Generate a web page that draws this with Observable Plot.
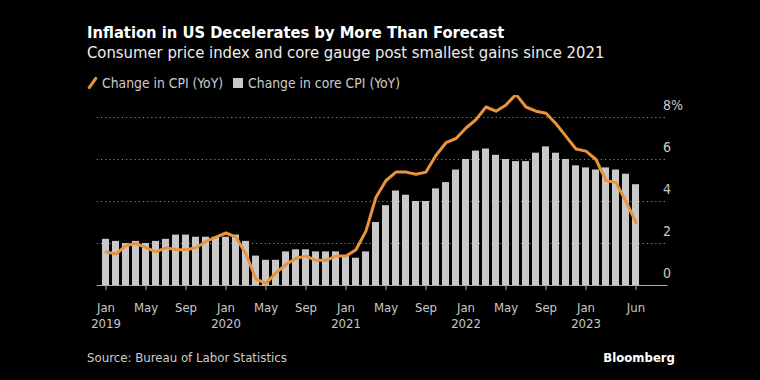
<!DOCTYPE html>
<html><head><meta charset="utf-8">
<script src="https://cdn.jsdelivr.net/npm/d3@7"></script>
<script src="https://cdn.jsdelivr.net/npm/@observablehq/plot@0.6"></script>
<style>
html,body{margin:0;padding:0;background:#000;}
#wrap{position:relative;width:760px;height:380px;background:#000;overflow:hidden;font-family:'Liberation Sans Narrow','DejaVu Sans Condensed',Roboto,sans-serif;color:#fff;}
.t{position:absolute;white-space:nowrap;line-height:1;}
#title{left:87px;top:24.8px;font-size:16.4px;font-weight:bold;color:#fff;}
#subtitle{left:87px;top:45.3px;font-size:16.5px;color:#eee;}
#legend{left:87px;top:76.6px;font-size:13.8px;color:#ccc;display:flex;align-items:center;}
#legend .sw{display:inline-block;margin-right:5px;}
#legend .slash{width:10px;height:12px;position:relative;}
#legend .slash:after{content:"";position:absolute;left:4px;top:-1px;width:3px;height:14px;background:#e8943a;transform:rotate(35deg);border-radius:1px;}
#legend .sq{width:10px;height:10px;background:#c8c8c8;margin-left:10px;}
#source{left:87px;top:351.3px;font-size:13.1px;color:#ccc;}
#brand{right:85px;top:350.5px;font-size:13px;font-weight:bold;color:#fff;}
#chart{position:absolute;left:0;top:95px;}
</style>
</head><body>
<div id="wrap">
  <div class="t" id="title">Inflation in US Decelerates by More Than Forecast</div>
  <div class="t" id="subtitle">Consumer price index and core gauge post smallest gains since 2021</div>
  <div class="t" id="legend"><span class="sw slash"></span><span>Change in CPI (YoY)</span><span class="sw sq"></span><span>Change in core CPI (YoY)</span></div>
  <div id="chart"></div>
  <div class="t" id="source">Source: Bureau of Labor Statistics</div>
  <div class="t" id="brand">Bloomberg</div>
</div>
<script>
// Data (monthly, Jan 2019 – Jun 2023)
const years = [2019, 2020, 2021, 2022, 2023];
const monthNames = ["Jan","Feb","Mar","Apr","May","Jun","Jul","Aug","Sep","Oct","Nov","Dec"];
const cpiYoY = [
  1.6, 1.5, 1.9, 2.0, 1.8, 1.6, 1.8, 1.7, 1.7, 1.8, 2.1, 2.3,
  2.5, 2.3, 1.5, 0.3, 0.1, 0.6, 1.0, 1.3, 1.4, 1.2, 1.2, 1.4,
  1.4, 1.7, 2.6, 4.2, 5.0, 5.4, 5.4, 5.3, 5.4, 6.2, 6.8, 7.0,
  7.5, 7.9, 8.5, 8.3, 8.6, 9.1, 8.5, 8.3, 8.2, 7.7, 7.1, 6.5,
  6.4, 6.0, 5.0, 4.9, 4.0, 3.0
];
const coreYoY = [
  2.2, 2.1, 2.0, 2.1, 2.0, 2.1, 2.2, 2.4, 2.4, 2.3, 2.3, 2.3,
  2.3, 2.4, 2.1, 1.4, 1.2, 1.2, 1.6, 1.7, 1.7, 1.6, 1.6, 1.6,
  1.4, 1.3, 1.6, 3.0, 3.8, 4.5, 4.3, 4.0, 4.0, 4.6, 4.9, 5.5,
  6.0, 6.4, 6.5, 6.2, 6.0, 5.9, 5.9, 6.3, 6.6, 6.3, 6.0, 5.7,
  5.6, 5.5, 5.6, 5.5, 5.3, 4.8
];
const xTicks = ["2019-01","2019-05","2019-09","2020-01","2020-05","2020-09","2021-01","2021-05","2021-09","2022-01","2022-05","2022-09","2023-01","2023-06"];
const yTicks = [0, 2, 4, 6, 8];

const allMonths = [];
years.forEach(y => monthNames.forEach((m, i) => allMonths.push(`${y}-${String(i + 1).padStart(2, "0")}`)));
const months = allMonths.slice(0, cpiYoY.length);
const table = cpiYoY.map((v, i) => ({month: months[i], cpi: v, core: coreYoY[i]}));

function fmtX(d) {
  const [y, m] = d.split("-");
  const name = monthNames[+m - 1];
  return m === "01" ? `${name}\n${y}` : name;
}

const chart = Plot.plot({
  width: 760,
  height: 240,
  marginLeft: 96.7,
  marginRight: 116.6,
  marginTop: 22,
  marginBottom: 50,
  style: {background: "transparent", fontFamily: "'Liberation Sans Narrow','DejaVu Sans Condensed',Roboto,sans-serif"},
  x: {type: "band", domain: months, paddingInner: 0.34, paddingOuter: 0.17, axis: null, label: null},
  y: {domain: [0, 8], axis: null, label: null},
  marks: [
    Plot.ruleY(yTicks.filter(d => d > 0), {stroke: "#8a8a8a", strokeDasharray: "1.2,3", strokeWidth: 1, insetRight: -24}),
    Plot.barY(table, {x: "month", y: "core", fill: "#c8c8c8"}),
    Plot.line(table, {x: "month", y: "cpi", stroke: "#e8943a", strokeWidth: 3, strokeLinejoin: "round", strokeLinecap: "round"}),
    Plot.ruleY([0], {stroke: "#b0b0b0", strokeWidth: 1, insetRight: -24}),
    Plot.axisX({ticks: xTicks, tickFormat: fmtX, tickSize: 5, tickPadding: 9, stroke: "#b0b0b0", color: "#c8c8c8", fontSize: 13, lineHeight: 1.3, label: null}),
    Plot.axisY({anchor: "right", ticks: yTicks, tickFormat: d => d === 8 ? "8%" : String(d), tickSize: 0, tickPadding: 19, dy: -12, textAnchor: "start", color: "#c8c8c8", fontSize: 14, label: null})
  ]
});
document.getElementById("chart").appendChild(chart);
</script>
</body></html>
